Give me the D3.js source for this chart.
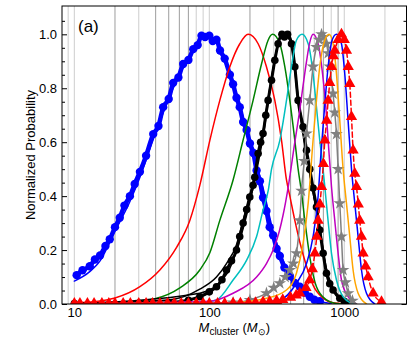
<!DOCTYPE html>
<html>
<head>
<meta charset="utf-8">
<style>
body { margin: 0; background: #fff; }
svg { display: block; font-family: "Liberation Sans", Arial, sans-serif; }
.frame { fill: none; stroke: #000; stroke-width: 1; }
.axis path { display: none; }
.axis line { stroke: #000; }
.axis text { font-size: 13px; fill: #000; }
</style>
<script src="https://cdn.jsdelivr.net/npm/d3@7"></script>
</head>
<body>
<svg width="415" height="346"></svg>
<script>
// vertical reference lines (mass values), two shades
var gridMasses = [8, 9, 10, 20, 30, 40, 50, 60, 70, 80, 90, 100, 200, 300, 400, 500, 600, 700, 800, 900, 1000, 2000];
var gridShade  = ["d", "l", "l", "d", "l", "d", "d", "d", "d", "l", "l", "l", "d", "l", "d", "d", "l", "d", "l", "d", "l", "l"];

var xTicks = [10, 100, 1000];
var yTicks = [0, 0.2, 0.4, 0.6, 0.8, 1.0];
var yMinor = [0.05, 0.1, 0.15, 0.25, 0.3, 0.35, 0.45, 0.5, 0.55, 0.65, 0.7, 0.75, 0.85, 0.9, 0.95, 1.05];

// blue circles (data) and its fit line
var blueDotM = [10.4, 11.5, 13, 14.2, 15.5, 17, 18.3, 20, 21.7, 23.5, 25.8, 28, 30.6, 34, 38.4, 42, 45.5, 50, 54, 59, 64, 70, 76, 82, 87.5, 93, 100, 106, 113, 120, 130, 142, 150, 159, 168, 178, 189, 200, 212, 224, 237, 250, 265, 280, 297, 315, 333, 360, 395, 430, 468, 510, 555, 600, 658];
var blueDotP = [0.107, 0.125, 0.14, 0.165, 0.18, 0.215, 0.24, 0.285, 0.32, 0.365, 0.40, 0.445, 0.49, 0.55, 0.63, 0.66, 0.73, 0.76, 0.82, 0.84, 0.89, 0.905, 0.945, 0.96, 0.995, 0.99, 0.995, 0.975, 0.98, 0.94, 0.91, 0.85, 0.815, 0.765, 0.73, 0.675, 0.645, 0.595, 0.56, 0.495, 0.455, 0.395, 0.345, 0.285, 0.255, 0.205, 0.178, 0.135, 0.104, 0.078, 0.064, 0.042, 0.027, 0.016, 0.01];
var blueFitM = [10, 13, 15.5, 20, 25.8, 30.6, 38.4, 54, 76, 95, 120, 159, 200, 250, 297, 395, 468, 555, 658, 800];
var blueFitP = [0.085, 0.12, 0.16, 0.27, 0.38, 0.47, 0.61, 0.80, 0.94, 1.0, 0.95, 0.78, 0.6, 0.43, 0.27, 0.11, 0.06, 0.03, 0.01, 0.002];

var redM = [10, 15, 20, 30.6, 43, 57.2, 71.7, 85, 100.9, 119.6, 141.9, 168.2, 194, 230, 265, 305.7, 342.7, 373, 395, 430, 468, 525, 587, 697, 822, 1000];
var redP = [0.004, 0.01, 0.022, 0.064, 0.126, 0.21, 0.31, 0.44, 0.607, 0.755, 0.88, 0.965, 1.0, 0.965, 0.88, 0.755, 0.607, 0.46, 0.40, 0.31, 0.23, 0.14, 0.07, 0.022, 0.005, 0.001];

var greenM = [10, 20, 39.5, 60.5, 85, 100.9, 119.6, 150, 177.8, 211, 243.6, 272.6, 293.9, 333, 362.5, 394.8, 430, 455, 480, 510, 555, 622, 738, 850, 1000];
var greenP = [0.0, 0.003, 0.02, 0.06, 0.126, 0.19, 0.31, 0.46, 0.607, 0.755, 0.89, 0.978, 1.0, 0.965, 0.88, 0.755, 0.607, 0.50, 0.42, 0.31, 0.175, 0.064, 0.015, 0.003, 0.0];

// black circles (data) and two black fit lines
var blackDotM = [10, 30, 50, 70, 85, 100, 113, 124, 134, 146, 159, 168, 178, 189, 199.5, 211, 217, 230, 240, 250, 262, 272.6, 289, 305.7, 323.4, 345, 360, 380, 406.4, 430, 455, 495, 525, 555, 587, 622, 658, 697, 738, 780, 826, 926, 1000, 1100];
var blackDotP = [0.002, 0.003, 0.005, 0.014, 0.027, 0.045, 0.064, 0.09, 0.126, 0.16, 0.2, 0.25, 0.3, 0.35, 0.397, 0.44, 0.47, 0.558, 0.6, 0.632, 0.7, 0.755, 0.83, 0.904, 0.965, 1.0, 0.99, 1.0, 0.965, 0.88, 0.755, 0.657, 0.57, 0.5, 0.43, 0.36, 0.274, 0.188, 0.114, 0.075, 0.052, 0.021, 0.01, 0.003];
var blackFitAM = [10, 50, 85, 113, 134, 159, 178, 199.5, 217, 250, 289, 323, 360, 406, 455, 525, 587, 658, 738, 826, 926, 1100];
var blackFitAP = [0.002, 0.015, 0.055, 0.1, 0.15, 0.22, 0.31, 0.40, 0.48, 0.64, 0.84, 0.965, 1.0, 0.96, 0.75, 0.55, 0.42, 0.28, 0.12, 0.05, 0.02, 0.003];
var blackFitBM = [10, 85, 134, 178, 217, 250, 289, 345, 406, 455, 555, 658, 738, 826, 926, 1100];
var blackFitBP = [0.001, 0.04, 0.11, 0.28, 0.46, 0.62, 0.83, 1.0, 0.97, 0.77, 0.48, 0.28, 0.13, 0.06, 0.025, 0.004];

var cyanM = [10, 80, 113, 150, 189, 224, 250, 273, 289, 333, 373, 406, 442, 487, 540, 587, 622, 658, 690, 717, 758, 804, 875, 980, 1162];
var cyanP = [0.0, 0.003, 0.015, 0.089, 0.163, 0.25, 0.348, 0.42, 0.5, 0.607, 0.755, 0.88, 0.978, 1.0, 0.965, 0.854, 0.73, 0.607, 0.52, 0.435, 0.31, 0.188, 0.089, 0.027, 0.0];

var magentaM = [10, 100, 150, 224, 265, 297, 330, 352, 383, 430, 468, 495, 525, 555, 587, 640, 690, 730, 759, 804, 850, 900, 953, 1067, 1231];
var magentaP = [0.0, 0.01, 0.04, 0.1, 0.15, 0.2, 0.27, 0.33, 0.43, 0.6, 0.72, 0.81, 0.90, 0.97, 1.0, 0.965, 0.854, 0.73, 0.607, 0.435, 0.31, 0.188, 0.089, 0.027, 0.0];

// grey stars (data + line)
var greyM = [10, 150, 200, 265, 300, 333, 365, 395, 420, 442, 468, 482, 505, 525, 555, 587, 622, 650, 678, 705, 738, 760, 781, 826, 850, 875, 900, 926, 953, 980, 1020, 1067, 1150, 1231];
var greyP = [0.0, 0.005, 0.015, 0.04, 0.06, 0.077, 0.1, 0.126, 0.15, 0.188, 0.31, 0.42, 0.53, 0.632, 0.755, 0.88, 0.953, 0.98, 1.0, 0.99, 0.965, 0.93, 0.88, 0.78, 0.71, 0.63, 0.50, 0.373, 0.25, 0.126, 0.08, 0.04, 0.012, 0.0];

var orangeM = [10, 150, 265, 373, 442, 495, 540, 587, 622, 658, 717, 772, 826, 875, 926, 980, 1038, 1098, 1162, 1266, 1460];
var orangeP = [0.0, 0.005, 0.021, 0.052, 0.114, 0.225, 0.373, 0.607, 0.755, 0.88, 0.978, 1.0, 0.965, 0.854, 0.68, 0.50, 0.373, 0.25, 0.126, 0.04, 0.0];

var blueLineM = [10, 200, 333, 442, 525, 587, 640, 672, 717, 759, 812, 875, 953, 1008, 1067, 1131, 1196, 1266, 1341, 1460, 1683];
var blueLineP = [0.0, 0.003, 0.015, 0.077, 0.15, 0.25, 0.40, 0.56, 0.74, 0.88, 0.978, 1.0, 0.965, 0.854, 0.68, 0.50, 0.373, 0.25, 0.126, 0.04, 0.0];

// red triangles (data + dashed line)
var redTriM = [10, 11, 12.5, 14, 16, 18, 20, 23, 26, 30, 34, 38, 43, 49, 55, 62, 70, 80, 90, 100, 115, 130, 150, 170, 195, 220, 250, 280, 315, 350, 400, 440, 468, 520, 555, 580, 605, 625, 640, 660, 678, 700, 717, 740, 759, 780, 804, 830, 850, 900, 953, 1000, 1038, 1070, 1098, 1131, 1162, 1196, 1231, 1270, 1302, 1340, 1378, 1440, 1501, 1635, 1886];
var redTriP = [0.002, 0.002, 0.002, 0.002, 0.002, 0.002, 0.002, 0.002, 0.002, 0.002, 0.002, 0.002, 0.002, 0.002, 0.002, 0.002, 0.002, 0.002, 0.002, 0.002, 0.002, 0.002, 0.003, 0.003, 0.004, 0.005, 0.007, 0.009, 0.012, 0.016, 0.024, 0.032, 0.04, 0.06, 0.089, 0.13, 0.188, 0.25, 0.31, 0.37, 0.435, 0.52, 0.607, 0.68, 0.755, 0.82, 0.88, 0.92, 0.94, 0.98, 1.0, 0.98, 0.94, 0.88, 0.817, 0.694, 0.57, 0.484, 0.435, 0.37, 0.31, 0.25, 0.188, 0.14, 0.1, 0.04, 0.008];

function zipSeries(ms, ps) {
  return ms.map(function(m, i) { return {m: m, p: ps[i]}; });
}

var svg = d3.select("svg");
var padL = 62, padR = 406.5, padT = 6, padB = 304;

var x = d3.scaleLog().domain([8.1, 2890]).range([padL, padR]);
var y = d3.scaleLinear().domain([0, 1.105]).range([padB, padT]);

svg.append("defs").append("clipPath").attr("id", "clip")
  .append("rect").attr("x", padL).attr("y", padT)
  .attr("width", padR - padL).attr("height", padB - padT);

var plot = svg.append("g").attr("clip-path", "url(#clip)");

// grid lines
plot.selectAll("line.grid")
  .data(gridMasses)
  .enter()
  .append("line")
  .attr("class", "grid")
  .attr("x1", function(d) { return x(d); })
  .attr("x2", function(d) { return x(d); })
  .attr("y1", padT)
  .attr("y2", padB)
  .attr("stroke", function(d, i) { return gridShade[i] === "d" ? "#a6a6a6" : "#d2d2d2"; })
  .attr("stroke-width", 1.1);

var line = d3.line()
  .x(function(d) { return x(d.m); })
  .y(function(d) { return y(d.p); })
  .curve(d3.curveMonotoneX);

function drawLine(data, color, width, dash) {
  plot.append("path")
    .datum(data)
    .attr("d", line)
    .attr("fill", "none")
    .attr("stroke", color)
    .attr("stroke-width", width)
    .attr("stroke-linejoin", "round")
    .attr("stroke-linecap", "round")
    .attr("stroke-dasharray", dash || null);
}

function drawMarkers(data, color, symbol, size) {
  var sym = d3.symbol().type(symbol).size(size);
  plot.append("g")
    .selectAll("path")
    .data(data.filter(function(d) { return d.p > 0.001; }))
    .enter()
    .append("path")
    .attr("d", sym)
    .attr("fill", color)
    .attr("transform", function(d) { return "translate(" + x(d.m) + "," + y(d.p) + ")"; });
}

var blueDots = zipSeries(blueDotM, blueDotP);
var blackDots = zipSeries(blackDotM, blackDotP);
var greyStars = zipSeries(greyM, greyP);
var redTris = zipSeries(redTriM, redTriP);

// blue data + fit
drawLine(zipSeries(blueFitM, blueFitP), "#0000ff", 1.5);
drawLine(blueDots, "#0000ff", 4.5);
drawMarkers(blueDots, "#0000ff", d3.symbolCircle, 55);

drawLine(zipSeries(redM, redP), "#ff0000", 1.5);
drawLine(zipSeries(greenM, greenP), "#008000", 1.5);

drawLine(zipSeries(blackFitAM, blackFitAP), "#000", 1.5);
drawLine(zipSeries(blackFitBM, blackFitBP), "#000", 1.5);
drawLine(blackDots, "#000", 3);
drawMarkers(blackDots, "#000", d3.symbolCircle, 45);

drawLine(zipSeries(cyanM, cyanP), "#00bfbf", 1.5);
drawLine(zipSeries(magentaM, magentaP), "#bf00bf", 1.5);

drawLine(greyStars, "#808080", 1.5);
drawMarkers(greyStars, "#808080", d3.symbolStar, 50);

drawLine(zipSeries(orangeM, orangeP), "#ffa500", 1.5);
drawLine(zipSeries(blueLineM, blueLineP), "#0000ff", 1.5);

drawLine(redTris, "#ff0000", 1.5, "5,3");
drawMarkers(redTris, "#ff0000", d3.symbolTriangle, 55);

// axes
var yAxis = d3.axisLeft(y).tickValues(yTicks).tickFormat(d3.format(".1f"))
  .tickSizeInner(-5).tickSizeOuter(0).tickPadding(5);
svg.append("g").attr("class", "axis").attr("transform", "translate(" + padL + ",0)").call(yAxis);

svg.append("g").attr("class", "axis").attr("transform", "translate(" + padL + ",0)")
  .call(d3.axisLeft(y).tickValues(yMinor).tickFormat("").tickSizeInner(-3).tickSizeOuter(0));

svg.append("g").attr("class", "axis").attr("transform", "translate(" + padR + ",0)")
  .call(d3.axisRight(y).tickValues(yTicks).tickFormat("").tickSizeInner(-5).tickSizeOuter(0));
svg.append("g").attr("class", "axis").attr("transform", "translate(" + padR + ",0)")
  .call(d3.axisRight(y).tickValues(yMinor).tickFormat("").tickSizeInner(-3).tickSizeOuter(0));

var xAxis = d3.axisBottom(x).tickValues(xTicks).tickFormat(d3.format("d"))
  .tickSize(0).tickPadding(4);
svg.append("g").attr("class", "axis").attr("transform", "translate(0," + padB + ")").call(xAxis);

svg.append("rect").attr("class", "frame")
  .attr("x", padL).attr("y", padT)
  .attr("width", padR - padL).attr("height", padB - padT);

// labels
svg.append("text")
  .attr("transform", "translate(35,155) rotate(-90)")
  .attr("text-anchor", "middle")
  .style("font-size", "13px")
  .text("Normalized Probability");

var xl = svg.append("text")
  .attr("x", (padL + padR) / 2)
  .attr("y", 332)
  .attr("text-anchor", "middle")
  .style("font-size", "13px");
xl.append("tspan").style("font-style", "italic").text("M");
xl.append("tspan").attr("dy", 3).style("font-size", "10px").text("cluster");
xl.append("tspan").attr("dy", -3).text(" (");
xl.append("tspan").style("font-style", "italic").text("M");
xl.append("tspan").attr("dy", 3).style("font-size", "9px").text("⊙");
xl.append("tspan").attr("dy", -3).text(")");

svg.append("text")
  .attr("x", 78)
  .attr("y", 32)
  .style("font-size", "17px")
  .text("(a)");
</script>
</body>
</html>
